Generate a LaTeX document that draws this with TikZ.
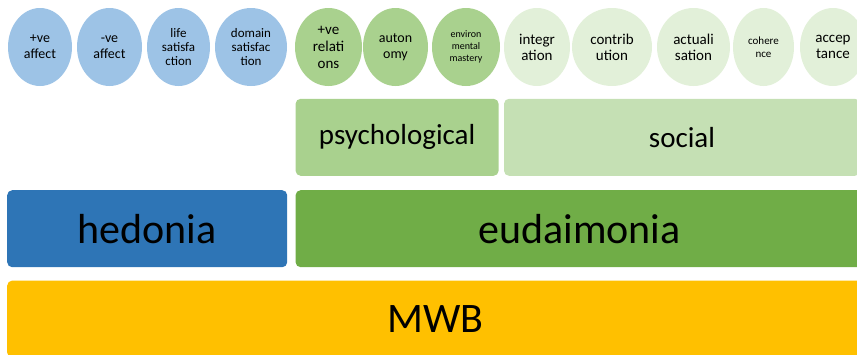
\documentclass[tikz,border=0pt]{standalone}
\usepackage{fontspec}
\setmainfont{Carlito}
\usetikzlibrary{shapes.geometric,positioning}
\definecolor{hedblue}{HTML}{2E75B6}
\definecolor{eudgreen}{HTML}{70AD47}
\definecolor{psygreen}{HTML}{A9D18E}
\definecolor{socgreen}{HTML}{C5E0B4}
\definecolor{mwbyellow}{HTML}{FFC000}
\definecolor{bubblue}{HTML}{9DC3E6}
\definecolor{bublight}{HTML}{E2F0D9}

\begin{document}
\begin{tikzpicture}[
    x=1pt, y=-1pt,
    node distance=13pt and 8pt,
    bub/.style={ellipse, inner sep=0pt, minimum height=78pt, align=center, font=\fontsize{14}{16}\selectfont},
    bar/.style={rectangle, rounded corners=5pt, inner sep=0pt, minimum height=77pt, align=center},
    bigfont/.style={font=\fontsize{42}{50}\selectfont},
    midfont/.style={font=\fontsize{29}{35}\selectfont}
]
\useasboundingbox (0,0) rectangle (857,354);
\clip (0,0) rectangle (857,354);

% Bars
\node[bar, bigfont, fill=hedblue, minimum width=280pt, anchor=north west] (hedonia) at (7,190) {hedonia};
\node[bar, bigfont, fill=eudgreen, minimum width=568pt, right=of hedonia] (eudaimonia) {eudaimonia};
\node[bar, bigfont, fill=mwbyellow, minimum width=856pt, below=13pt of hedonia.south west, anchor=north west] (mwb) {MWB};
\node[bar, midfont, fill=psygreen, minimum width=203pt, above=14pt of eudaimonia.north west, anchor=south west] (psych) {psychological};
\node[bar, midfont, fill=socgreen, minimum width=356pt, right=5pt of psych] (social) {social};

% Hedonic bubbles
\node[bub, fill=bubblue, minimum width=64pt] (posaff) at (40,47) {+ve\\affect};
\node[bub, fill=bubblue, minimum width=65pt] (negaff) at (109.5,47) {-ve\\affect};
\node[bub, fill=bubblue, minimum width=63pt, font=\fontsize{13}{14}\selectfont] (lifesat) at (178.5,47) {life\\satisfa\\ction};
\node[bub, fill=bubblue, minimum width=72pt, font=\fontsize{13}{14}\selectfont] (domsat) at (251,47) {domain\\satisfac\\tion};

% Psychological bubbles
\node[bub, fill=psygreen, minimum width=67pt, font=\fontsize{15}{17}\selectfont] (posrel) at (328.5,47) {+ve\\relati\\ons};
\node[bub, fill=psygreen, minimum width=65pt] (autonomy) at (395.5,47) {auton\\omy};
\node[bub, fill=psygreen, minimum width=68pt, font=\fontsize{10}{12}\selectfont] (envmast) at (466,47) {environ\\mental\\mastery};

% Social bubbles
\node[bub, fill=bublight, minimum width=66pt, font=\fontsize{15}{16}\selectfont] (integ) at (537,47) {integr\\ation};
\node[bub, fill=bublight, minimum width=80pt, font=\fontsize{15}{16}\selectfont] (contrib) at (612,47) {contrib\\ution};
\node[bub, fill=bublight, minimum width=73pt, font=\fontsize{15}{16}\selectfont] (actual) at (693.5,47) {actuali\\sation};
\node[bub, fill=bublight, minimum width=61pt, font=\fontsize{11}{13}\selectfont] (coher) at (763.5,47) {cohere\\nce};
\node[bub, fill=bublight, minimum width=66pt, font=\fontsize{15}{16}\selectfont] (accept) at (833,47) {accep\\tance};

\end{tikzpicture}
\end{document}
